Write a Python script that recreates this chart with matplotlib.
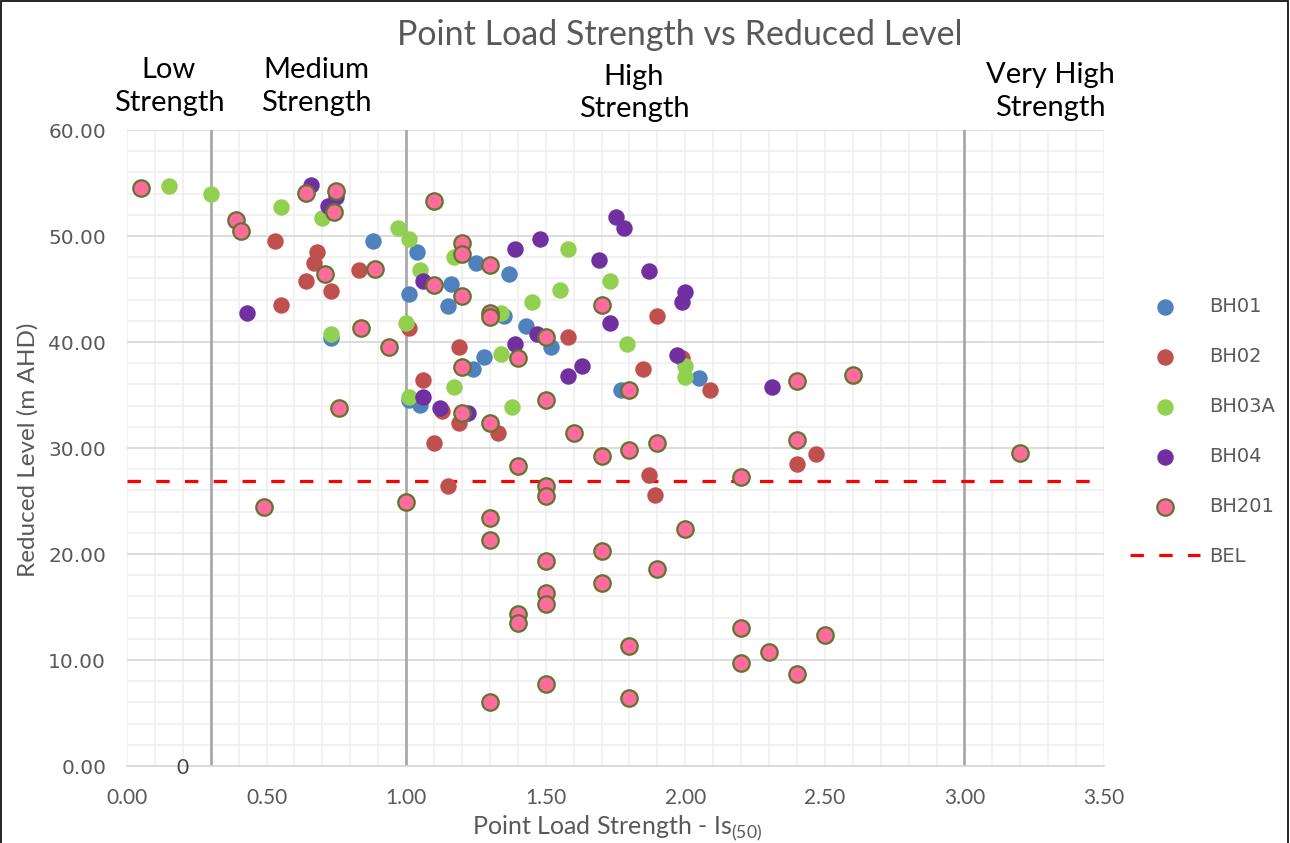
import matplotlib
matplotlib.use('Agg')
import matplotlib.pyplot as plt
from matplotlib.ticker import MultipleLocator, FormatStrFormatter
from matplotlib.lines import Line2D
from matplotlib.patches import Rectangle

# ---------------- data ----------------
bh01_x = [0.88, 1.04, 1.01, 0.73, 1.16, 1.15, 1.25, 1.37, 1.35, 1.43, 1.52, 1.28, 1.01, 1.05, 1.24, 1.77, 2.05]
bh01_y = [49.5, 48.5, 44.5, 40.4, 45.5, 43.4, 47.5, 46.4, 42.5, 41.5, 39.5, 38.6, 34.5, 34.1, 37.5, 35.5, 36.6]

bh02_x = [0.53, 0.68, 0.67, 0.64, 0.73, 0.83, 0.55, 1.01, 1.06, 1.13, 1.19, 1.10, 1.33, 1.15, 1.19, 1.58,
          1.85, 1.99, 2.09, 1.87, 1.89, 1.90, 2.40, 2.47]
bh02_y = [49.5, 48.5, 47.5, 45.8, 44.8, 46.8, 43.5, 41.3, 36.4, 33.5, 32.4, 30.5, 31.4, 26.4, 39.5, 40.5,
          37.5, 38.5, 35.5, 27.5, 25.6, 42.5, 28.5, 29.4]

bh03a_x = [0.15, 0.30, 0.55, 0.70, 0.97, 1.01, 1.05, 1.00, 0.73, 1.17, 1.58, 1.73, 1.55, 1.45, 1.34, 1.79,
           1.34, 1.01, 1.17, 1.38, 2.00, 2.00]
bh03a_y = [54.7, 54.0, 52.7, 51.7, 50.8, 49.7, 46.8, 41.8, 40.8, 48.0, 48.8, 45.8, 44.9, 43.8, 42.7, 39.8,
           38.9, 34.8, 35.8, 33.9, 37.7, 36.7]

bh04_x = [0.66, 0.72, 0.75, 0.43, 1.06, 1.39, 1.48, 1.75, 1.78, 1.69, 1.87, 2.00, 1.99, 1.73, 1.47, 1.39,
          1.97, 1.06, 1.12, 1.22, 1.58, 1.63, 2.31]
bh04_y = [54.8, 52.8, 53.7, 42.7, 45.8, 48.8, 49.7, 51.8, 50.8, 47.7, 46.7, 44.7, 43.8, 41.8, 40.8, 39.8,
          38.8, 34.8, 33.8, 33.3, 36.8, 37.7, 35.8]

bh201_x = [0.05, 0.39, 0.41, 0.64, 0.75, 0.74, 1.10, 1.20, 1.20, 1.30, 0.89, 0.71, 1.10, 1.20, 1.30, 1.30,
           1.50, 1.70, 0.84, 0.94, 1.40, 1.20, 1.80, 0.76, 1.50, 1.20, 1.30, 1.60, 1.90, 2.40, 1.70, 1.80,
           1.40, 1.50, 1.50, 1.00, 0.49, 1.30, 1.30, 2.00, 2.20, 3.20, 2.40, 2.60, 1.50, 1.70, 1.90, 1.70,
           1.50, 1.50, 1.40, 1.40, 1.80, 2.20, 2.50, 2.30, 2.20, 2.40, 1.50, 1.80, 1.30]
bh201_y = [54.5, 51.5, 50.5, 54.1, 54.2, 52.3, 53.3, 49.3, 48.3, 47.3, 46.9, 46.4, 45.4, 44.3, 42.7, 42.4,
           40.5, 43.5, 41.3, 39.5, 38.5, 37.6, 35.5, 33.8, 34.5, 33.3, 32.4, 31.4, 30.5, 30.8, 29.2, 29.8,
           28.3, 26.4, 25.5, 24.9, 24.4, 23.4, 21.3, 22.4, 27.3, 29.5, 36.3, 36.9, 19.3, 20.3, 18.6, 17.3,
           16.3, 15.3, 14.3, 13.5, 11.3, 13.0, 12.4, 10.8, 9.7, 8.7, 7.7, 6.4, 6.0]

series_names = ['BH01', 'BH02', 'BH03A', 'BH04', 'BH201']
bel_level = 26.9
boundary_x = [0.3, 1.0, 3.0]
strength_labels = ['Low\nStrength', 'Medium\nStrength', 'High\nStrength', 'Very High\nStrength']

# ---------------- styling ----------------
CAL = ['Lato', 'DejaVu Sans']
GREY = '#595959'

fig = plt.figure(figsize=(12.9, 8.43), dpi=100)
W, H = 1290, 843
ax = fig.add_axes([127 / W, 1 - 766 / H, (1104 - 127) / W, (766 - 130) / H])
ax.set_xlim(0, 3.5)
ax.set_ylim(0, 60)
ax.xaxis.set_major_locator(MultipleLocator(0.5))
ax.xaxis.set_minor_locator(MultipleLocator(0.1))
ax.yaxis.set_major_locator(MultipleLocator(10))
ax.yaxis.set_minor_locator(MultipleLocator(2))
ax.grid(which='minor', color='#EFEFEF', lw=1.2)
ax.grid(which='major', axis='x', color='#EFEFEF', lw=1.2)
ax.grid(which='major', axis='y', color='#D9D9D9', lw=1.3)
ax.set_axisbelow(True)
ax.tick_params(which='both', length=0)
for s in ['top', 'right', 'left']:
    ax.spines[s].set_visible(False)
ax.spines['bottom'].set_color('#D9D9D9')
ax.spines['bottom'].set_linewidth(1.3)

ax.xaxis.set_major_formatter(FormatStrFormatter('%.2f'))
ax.yaxis.set_major_formatter(FormatStrFormatter('%.2f'))
ax.tick_params(axis='x', pad=16, labelsize=15, labelcolor=GREY)
ax.tick_params(axis='y', pad=15, labelsize=14.5, labelcolor=GREY)
for lab in ax.get_xticklabels():
    lab.set_family(CAL)

for xv in boundary_x:
    ax.axvline(xv, color='#A6A6A6', lw=1.9, zorder=1.5)

ax.axhline(bel_level, color='#FF0000', lw=2.3, ls=(0, (4.2, 4.8)), zorder=2)

ms = 140
h1 = ax.scatter(bh01_x, bh01_y, s=ms, color='#4F81BD', lw=0, zorder=3, label=series_names[0])
h2 = ax.scatter(bh02_x, bh02_y, s=ms, color='#C0504D', lw=0, zorder=4, label=series_names[1])
h3 = ax.scatter(bh03a_x, bh03a_y, s=ms, color='#92D050', lw=0, zorder=5, label=series_names[2])
h4 = ax.scatter(bh04_x, bh04_y, s=ms, color='#7030A0', lw=0, zorder=6, label=series_names[3])
h5 = ax.scatter(bh201_x, bh201_y, s=ms, facecolor='#FF6B9B', edgecolor='#5F7530', lw=1.6, zorder=7,
                label=series_names[4])
hb = Line2D([], [], color='#FF0000', lw=2.3, ls=(0, (4.2, 4.8)))

leg = ax.legend([h1, h2, h3, h4, h5, hb], series_names + ['BEL'], loc='center left',
                bbox_to_anchor=(1130 / W, 1 - 431.5 / H), bbox_transform=fig.transFigure,
                frameon=False, borderpad=0, borderaxespad=0, handlelength=3.6,
                handletextpad=0.45, labelspacing=1.6, fontsize=14, scatterpoints=1)
for t in leg.get_texts():
    t.set_color(GREY)

ax.text(0.197, -0.2, '0', ha='center', va='center', fontsize=15, color='#404040',
        family=CAL, clip_on=False)

fig.text(28 / W, 1 - 450 / H, 'Reduced Level (m AHD)', rotation=90, ha='center', va='center',
         fontsize=17.5, color=GREY, family=CAL)
fig.text(617 / W, 1 - 828 / H, r'Point Load Strength - Is$_{\mathregular{(50)}}$', ha='center',
         va='center', fontsize=18, color=GREY, family=CAL)

fig.text(680 / W, 1 - 35 / H, 'Point Load Strength vs Reduced Level', ha='center', va='center',
         fontsize=24.5, color=GREY, family=CAL)

label_pos = [(169, 86.5), (316, 86.5), (634, 93), (1050, 91.5)]
for txt, (px, py) in zip(strength_labels, label_pos):
    fig.text(px / W, 1 - py / H, txt, ha='center', va='center', fontsize=21, color='black',
             family=CAL, linespacing=1.32)

fig.add_artist(Rectangle((0.0008, -0.01), 0.9976, 1.0085, transform=fig.transFigure,
                         fill=False, ec='black', lw=1.2))

fig.savefig('out.png', dpi=100)
